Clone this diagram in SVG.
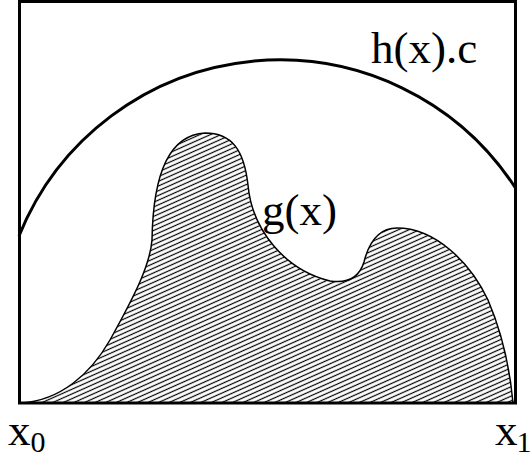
<svg xmlns="http://www.w3.org/2000/svg" width="530" height="457" viewBox="0 0 530 457">
<style>
.lbl{font-family:"Liberation Serif","Times New Roman",serif;fill:#000}
.big{font-size:45px}
.sub{font-size:30px}
</style>
<defs>
<pattern id="hatch" patternUnits="userSpaceOnUse" width="10" height="4.3" patternTransform="rotate(-24)">
<line x1="0" y1="2.15" x2="10" y2="2.15" stroke="#000" stroke-width="1.2"/>
</pattern>
</defs>
<rect width="530" height="457" fill="#fff"/>
<g id="gx">
<path d="M22 403 C60 400 90 375 110 340 C135 295 150 265 152 240 C153 175 168 135 205 133 C232 133 244 150 248 185 C252 230 285 270 330 281 C350 284 360 275 364 262 C370 238 382 228 397 228 C435 228 470 262 488 300 C503 335 510 370 513 403 Z" fill="url(#hatch)" stroke="#000" stroke-width="1.5"/>
</g>
<g id="hx">
<path d="M19 236 A281 281 0 0 1 515.5 188" fill="none" stroke="#000" stroke-width="3"/>
</g>
<g id="frame">
<rect x="19.5" y="1.5" width="496" height="401.5" fill="none" stroke="#000" stroke-width="3"/>
</g>
<g id="labels">
<text class="lbl big" x="371" y="63">h(x).c</text>
<text class="lbl big" x="262" y="225">g(x)</text>
<text class="lbl big" x="8" y="445">x<tspan class="sub" dy="7">0</tspan></text>
<text class="lbl big" x="495" y="445">x<tspan class="sub" dy="7" dx="-1">1</tspan></text>
</g>
</svg>
